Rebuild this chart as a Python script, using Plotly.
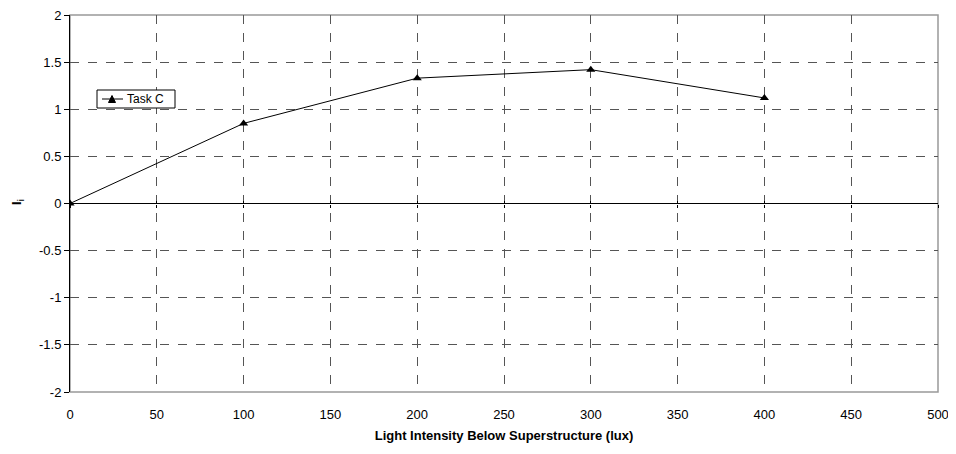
import plotly.graph_objects as go

x_lux = [0, 100, 200, 300, 400]
task_c = [0, 0.85, 1.33, 1.42, 1.12]
series_name = "Task C"
x_ticks = [0, 50, 100, 150, 200, 250, 300, 350, 400, 450, 500]
y_ticks = [-2, -1.5, -1, -0.5, 0, 0.5, 1, 1.5, 2]
y_tick_labels = ["-2", "-1.5", "-1", "-0.5", "0", "0.5", "1", "1.5", "2"]

FONT = "Liberation Sans, Arial, sans-serif"
# plot area in screen px (page body has 8px margin)
PL, PR, PT, PB = 70, 938, 15, 392
PW, PH = PR - PL, PB - PT

def px(sx):
    return (sx - PL) / PW

def py(sy):
    return (PB - sy) / PH

fig = go.Figure()
fig.add_trace(go.Scatter(
    x=x_lux, y=task_c, name=series_name, mode="lines+markers",
    line=dict(color="black", width=1),
    marker=dict(symbol="triangle-up", size=8, color="black"),
    showlegend=False,
))

# manual legend box
tri = [(108.5, 102.5), (115.5, 102.5), (112, 95.5)]
tri_path = "M " + " L ".join(f"{px(a):.5f},{py(b):.5f}" for a, b in tri) + " Z"
legend_shapes = [
    dict(type="rect", xref="paper", yref="paper", x0=px(97), x1=px(175),
         y0=py(108), y1=py(90), line=dict(color="black", width=1),
         fillcolor="white", layer="above"),
    dict(type="line", xref="paper", yref="paper", x0=px(102), x1=px(123),
         y0=py(99), y1=py(99), line=dict(color="black", width=1), layer="above"),
    dict(type="path", xref="paper", yref="paper", path=tri_path,
         fillcolor="black", line=dict(color="black", width=1), layer="above"),
]

fig.update_layout(
    width=940, height=438,
    margin=dict(l=PL - 8, r=948 - PR, t=PT - 8, b=438 + 8 - PB),
    paper_bgcolor="white", plot_bgcolor="white",
    font=dict(family=FONT, size=13, color="black"),
    showlegend=False,
    xaxis=dict(range=[0, 500], tickvals=x_ticks, showgrid=True,
               gridcolor="#555", griddash="dash", gridwidth=1,
               zeroline=False, showline=False,
               ticks="outside", ticklen=10, tickcolor="rgba(0,0,0,0)",
               automargin=False, ticklabeloverflow="allow",
               title=dict(text="<b>Light Intensity Below Superstructure (lux)</b>",
                          font=dict(size=13), standoff=10)),
    yaxis=dict(range=[-2, 2], tickvals=y_ticks, ticktext=y_tick_labels,
               showgrid=True, gridcolor="#555", griddash="dash", gridwidth=1,
               zeroline=True, zerolinecolor="black", zerolinewidth=1,
               showline=True, linecolor="black", linewidth=1,
               ticks="outside", ticklen=5, tickcolor="black", automargin=False,
               ticklabeloverflow="allow"),
    xaxis2=dict(range=[0, 500], tickvals=x_ticks, overlaying="x", anchor="free",
                position=0.5, showgrid=False, zeroline=False, showline=False,
                showticklabels=False, ticks="outside", ticklen=3, tickcolor="black"),
    xaxis3=dict(range=[0, 500], tickvals=x_ticks, overlaying="x", anchor="free",
                position=0.5, showgrid=False, zeroline=False, showline=False,
                showticklabels=False, ticks="inside", ticklen=3, tickcolor="black"),
    shapes=[dict(type="rect", xref="paper", yref="paper", x0=0, x1=1, y0=0, y1=1,
                 line=dict(color="#999", width=1.5), layer="below")] + legend_shapes,
    annotations=[
        dict(text="<b>I<sub>i</sub></b>", xref="paper", yref="paper",
             x=px(17), y=py(202), xanchor="center", yanchor="middle",
             textangle=-90, showarrow=False, font=dict(size=13)),
        dict(text=series_name, xref="paper", yref="paper", x=px(125), y=py(99),
             xanchor="left", yanchor="middle", showarrow=False, font=dict(size=12)),
    ],
)
fig.add_trace(go.Scatter(x=[0], y=[None], xaxis="x2", showlegend=False))
fig.add_trace(go.Scatter(x=[0], y=[None], xaxis="x3", showlegend=False))

fig.write_html("out.html")
